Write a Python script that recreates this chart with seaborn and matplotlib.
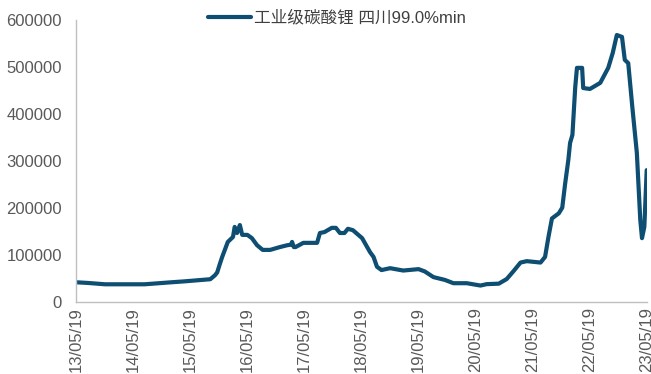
import numpy as np
import pandas as pd
import matplotlib
matplotlib.use("Agg")
import matplotlib.pyplot as plt
import seaborn as sns

# price series (yuan/t)
dates = [
    "2013-05-19", "2013-08-05", "2013-11-20", "2014-08-01", "2015-01-20",
    "2015-04-15", "2015-09-25", "2015-10-25", "2015-11-08", "2015-11-25",
    "2015-12-10", "2016-01-15", "2016-02-17", "2016-02-28", "2016-03-14",
    "2016-04-01", "2016-04-16", "2016-05-19", "2016-06-17", "2016-07-20",
    "2016-08-25", "2016-10-12", "2016-12-13", "2017-01-30", "2017-02-21",
    "2017-03-01", "2017-03-12", "2017-03-23", "2017-05-12", "2017-08-08",
    "2017-08-26", "2017-09-24", "2017-11-10", "2017-12-06", "2018-01-01",
    "2018-01-30", "2018-02-21", "2018-03-25", "2018-05-23", "2018-07-13",
    "2018-08-04", "2018-08-26", "2018-09-24", "2018-11-18", "2019-02-10",
    "2019-05-19", "2019-06-28", "2019-08-22", "2019-11-03", "2019-12-28",
    "2020-03-22", "2020-06-18", "2020-07-28", "2020-10-13", "2020-12-03",
    "2021-01-16", "2021-03-01", "2021-04-10", "2021-07-07", "2021-08-05",
    "2021-08-27", "2021-09-18", "2021-11-01", "2021-11-23", "2021-12-11",
    "2022-01-01", "2022-01-12", "2022-01-27", "2022-02-14", "2022-02-25",
    "2022-03-30", "2022-04-06", "2022-05-19", "2022-07-24", "2022-09-13",
    "2022-10-12", "2022-11-07", "2022-12-10", "2022-12-28", "2023-01-19",
    "2023-02-14", "2023-03-15", "2023-04-06", "2023-04-17", "2023-05-02",
    "2023-05-17",
]
prices = [
    41000, 39500, 36700, 36700, 41000,
    43000, 47500, 56000, 62000, 80000,
    95000, 127000, 137500, 159000, 146000,
    163000, 142000, 142000, 135000, 120000,
    110000, 110000, 116000, 120000, 121000,
    127000, 116000, 116000, 125000, 125000,
    146000, 148000, 157000, 157000, 146000,
    146000, 155000, 152000, 135000, 105000,
    95000, 74000, 67000, 71000, 66000,
    69000, 64000, 52000, 46000, 39000,
    39000, 34000, 37000, 38000, 48000,
    65000, 83000, 86000, 83000, 95000,
    138000, 177000, 188000, 200000, 250000,
    302000, 338000, 355000, 457000, 498000,
    498000, 455000, 453000, 466000, 498000,
    530000, 568000, 564000, 515000, 508000,
    415000, 317000, 174000, 135000, 159000,
    280000,
]
series_name = "工业级碳酸锂 四川99.0%min"
tick_dates = [f"{y}-05-19" for y in range(2013, 2024)]
tick_labels = [f"{y % 100:02d}/05/19" for y in range(2013, 2024)]
y_ticks = [0, 100000, 200000, 300000, 400000, 500000, 600000]

df = pd.DataFrame({"date": pd.to_datetime(dates), "price": prices, "series": series_name})

sns.set_style("white")
plt.rcParams["font.family"] = ["Liberation Sans", "Noto Sans CJK SC", "DejaVu Sans"]

line_color = "#0D4E72"
grey = "#BFBFBF"
text_color = "#595959"

fig = plt.figure(figsize=(6.51, 3.74), dpi=100)
ax = fig.add_axes([76 / 651, 1 - 301.5 / 374, 571 / 651, 281.5 / 374])

sns.lineplot(data=df, x="date", y="price", hue="series", palette=[line_color],
             linewidth=3.0, ax=ax)

ax.set_xlim(pd.Timestamp(tick_dates[0]), pd.Timestamp(tick_dates[-1]))
ax.set_ylim(0, 600000)
ax.set_xticks(pd.to_datetime(tick_dates))
ax.set_xticklabels(tick_labels, rotation=90, fontsize=12, color=text_color)
ax.set_yticks(y_ticks)
ax.set_yticklabels([str(v) for v in y_ticks], fontsize=12, color=text_color)
ax.set_xlabel("")
ax.set_ylabel("")

for side in ["top", "right"]:
    ax.spines[side].set_visible(False)
for side in ["left", "bottom"]:
    ax.spines[side].set_color(grey)
    ax.spines[side].set_linewidth(1.0)

ax.tick_params(axis="x", direction="in", length=4, color=grey, pad=4)
ax.tick_params(axis="y", direction="out", length=4, color=grey, pad=6)

handles, labels = ax.get_legend_handles_labels()
ax.legend(handles, labels, loc="center", bbox_to_anchor=(337 / 651, 1 - 18 / 374),
          bbox_transform=fig.transFigure, frameon=False, fontsize=12,
          handlelength=2.6, handletextpad=0.2, labelcolor="#404040")

fig.savefig("out.png", dpi=100)
